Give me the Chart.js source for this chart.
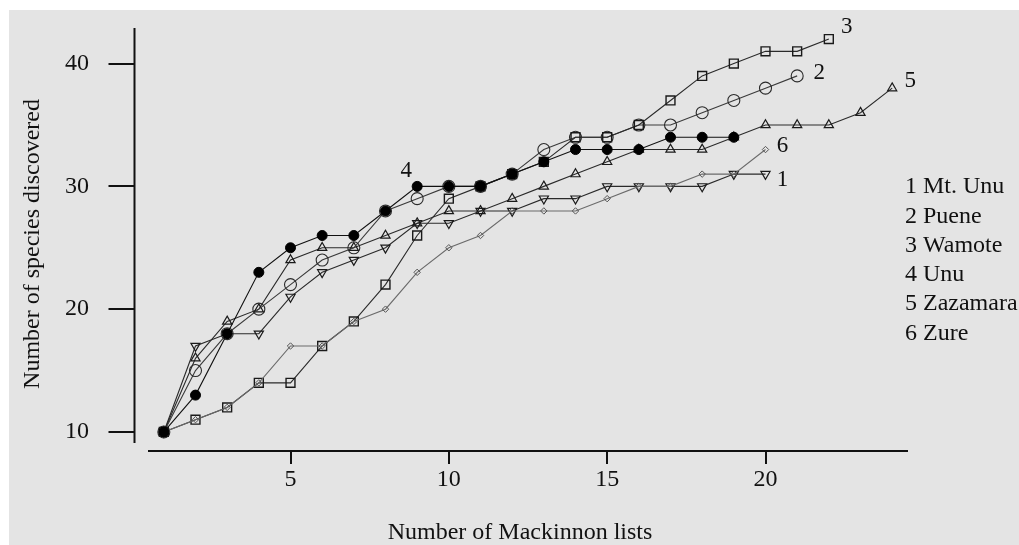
<!DOCTYPE html>
<html>
<head>
<meta charset="utf-8">
<script src="https://cdn.jsdelivr.net/npm/chart.js@4.4.1/dist/chart.umd.min.js"></script>
<style>
html,body{margin:0;padding:0;background:#ffffff;}
canvas{display:block;}
</style>
</head>
<body>
<canvas id="c" width="1019" height="545"></canvas>
<script>
// ---- data ----
const lists = [1,2,3,4,5,6,7,8,9,10,11,12,13,14,15,16,17,18,19,20,21,22,23,24];
const mtUnu    = [10,17,18,18,21,23,24,25,27,27,28,28,29,29,30,30,30,30,31,31];
const puene    = [10,15,18,20,22,24,25,28,29,30,30,31,33,34,34,35,35,36,37,38,39];
const wamote   = [10,11,12,14,14,17,19,22,26,29,30,31,32,34,34,35,37,39,40,41,41,42];
const unu      = [10,13,18,23,25,26,26,28,30,30,30,31,32,33,33,33,34,34,34];
const zazamara = [10,16,19,20,24,25,25,26,27,28,28,29,30,31,32,33,33,33,34,35,35,35,36,38];
const zure     = [10,11,12,14,17,17,19,20,23,25,26,28,28,28,29,30,30,31,31,33];

const seriesNames = ['Mt. Unu','Puene','Wamote','Unu','Zazamara','Zure'];
const xTicks = [5,10,15,20];
const yTicks = [10,20,30,40];
const xTitle = 'Number of Mackinnon lists';
const yTitle = 'Number of species discovered';

const FONT = '"Liberation Serif","Times New Roman",serif';

function pts(arr){ return arr.map((v,i)=>({x:lists[i], y:v})); }

const styles = [
  {data:mtUnu,    style:'triangle', rot:180, r:5.3, bw:1.2, fill:'rgba(0,0,0,0)', color:'#1a1a1a', line:'#2a2a2a', order:3, label:'1'},
  {data:puene,    style:'circle',   rot:0,   r:6,   bw:1.1, fill:'rgba(0,0,0,0)', color:'#2a2a2a', line:'#3a3a3a', order:4, label:'2'},
  {data:wamote,   style:'rect',     rot:0,   r:6.3, bw:1.4, fill:'rgba(0,0,0,0)', color:'#1a1a1a', line:'#2a2a2a', order:2, label:'3'},
  {data:unu,      style:'circle',   rot:0,   r:5,   bw:1,   fill:'#000',          color:'#000',    line:'#111',    order:0, label:'4'},
  {data:zazamara, style:'triangle', rot:0,   r:5.3, bw:1.2, fill:'rgba(0,0,0,0)', color:'#1a1a1a', line:'#2a2a2a', order:5, label:'5'},
  {data:zure,     style:'rectRot',  rot:0,   r:3.2, bw:1,   fill:'rgba(0,0,0,0)', color:'#555',    line:'#6a6a6a', order:1, label:'6'}
];

const datasets = styles.map((s,i)=>({
  label: seriesNames[i],
  data: pts(s.data),
  showLine: true,
  borderColor: s.line,
  borderWidth: 1.1,
  tension: 0,
  fill: false,
  pointStyle: s.style,
  pointRotation: s.rot,
  pointRadius: s.r,
  pointHoverRadius: s.r,
  pointBackgroundColor: s.fill,
  pointBorderColor: s.color,
  pointBorderWidth: s.bw,
  order: s.order,
  clip: false
}));

// end-of-line number labels: [series index, dx, dy, point index]
const endLabels = [
  [0, 17, 6, 'last'],
  [1, 22, -3, 'last'],
  [2, 18, -12, 'last'],
  [3, -11, -15, 8],
  [4, 18, -7, 'last'],
  [5, 17, -4, 'last']
];

const decor = {
  id:'decor',
  beforeDraw(chart){
    const ctx = chart.ctx;
    ctx.save();
    ctx.fillStyle = '#ffffff';
    ctx.fillRect(0,0,chart.width,chart.height);
    ctx.fillStyle = '#e4e4e4';
    ctx.fillRect(9,10,chart.width-9,chart.height-10);
    ctx.restore();
  },
  beforeDatasetsDraw(chart){
    const ctx = chart.ctx, xs = chart.scales.x, ys = chart.scales.y;
    ctx.save();
    ctx.strokeStyle = '#111';
    ctx.lineWidth = 2;
    const yAxisX = xs.left - 13.5;
    ctx.beginPath();
    ctx.moveTo(yAxisX, ys.top);
    ctx.lineTo(yAxisX, ys.bottom);
    yTicks.forEach(v=>{
      const py = Math.round(ys.getPixelForValue(v));
      ctx.moveTo(yAxisX-26, py);
      ctx.lineTo(yAxisX, py);
    });
    const xAxisY = ys.bottom + 8;
    ctx.moveTo(xs.left, xAxisY);
    ctx.lineTo(xs.right, xAxisY);
    xTicks.forEach(v=>{
      const px = Math.round(xs.getPixelForValue(v));
      ctx.moveTo(px, xAxisY);
      ctx.lineTo(px, xAxisY+13);
    });
    ctx.stroke();
    ctx.restore();
  },
  afterDraw(chart){
    const ctx = chart.ctx, xs = chart.scales.x, ys = chart.scales.y;
    ctx.save();
    ctx.fillStyle = '#111';
    ctx.textBaseline = 'middle';
    ctx.font = '23px ' + FONT;
    ctx.textAlign = 'center';
    endLabels.forEach(([si,dx,dy,idx])=>{
      const arr = styles[si].data;
      const i = idx === 'last' ? arr.length-1 : idx;
      const px = xs.getPixelForValue(lists[i]);
      const py = ys.getPixelForValue(arr[i]);
      ctx.fillText(styles[si].label, px+dx, py+dy);
    });
    // axis titles
    ctx.font = '24px ' + FONT;
    ctx.fillText(xTitle, 520, 533);
    ctx.save();
    ctx.translate(33, 244);
    ctx.rotate(-Math.PI/2);
    ctx.fillText(yTitle, 0, 0);
    ctx.restore();
    // legend text
    ctx.textAlign = 'left';
    seriesNames.forEach((n,i)=>{
      ctx.fillText((i+1)+' '+n, 905, 187 + i*29.3);
    });
    ctx.restore();
  }
};

new Chart(document.getElementById('c'), {
  type:'line',
  data:{ datasets },
  plugins:[decor],
  options:{
    responsive:false,
    devicePixelRatio:1,
    animation:false,
    layout:{ padding:{left:0, right:111, top:28, bottom:0} },
    plugins:{ legend:{display:false}, tooltip:{enabled:false} },
    events:[],
    scales:{
      x:{
        type:'linear', min:0.5, max:24.5,
        grid:{display:false, drawTicks:false, tickLength:0},
        border:{display:false},
        afterBuildTicks(s){ s.ticks = xTicks.map(v=>({value:v})); },
        afterFit(s){ s.height = 102; s.paddingLeft = 0; s.paddingRight = 0; },
        ticks:{ color:'#111', font:{family:FONT, size:24}, padding:22.6, maxRotation:0, autoSkip:false },
        title:{ display:false }
      },
      y:{
        type:'linear', min:9.1, max:42.9,
        grid:{display:false, drawTicks:false, tickLength:0},
        border:{display:false},
        afterBuildTicks(s){ s.ticks = yTicks.map(v=>({value:v})); },
        afterFit(s){ s.width = 148; s.paddingTop = 0; s.paddingBottom = 0; },
        ticks:{ color:'#111', font:{family:FONT, size:24}, padding:59, autoSkip:false },
        title:{ display:false }
      }
    }
  }
});
</script>
</body>
</html>
